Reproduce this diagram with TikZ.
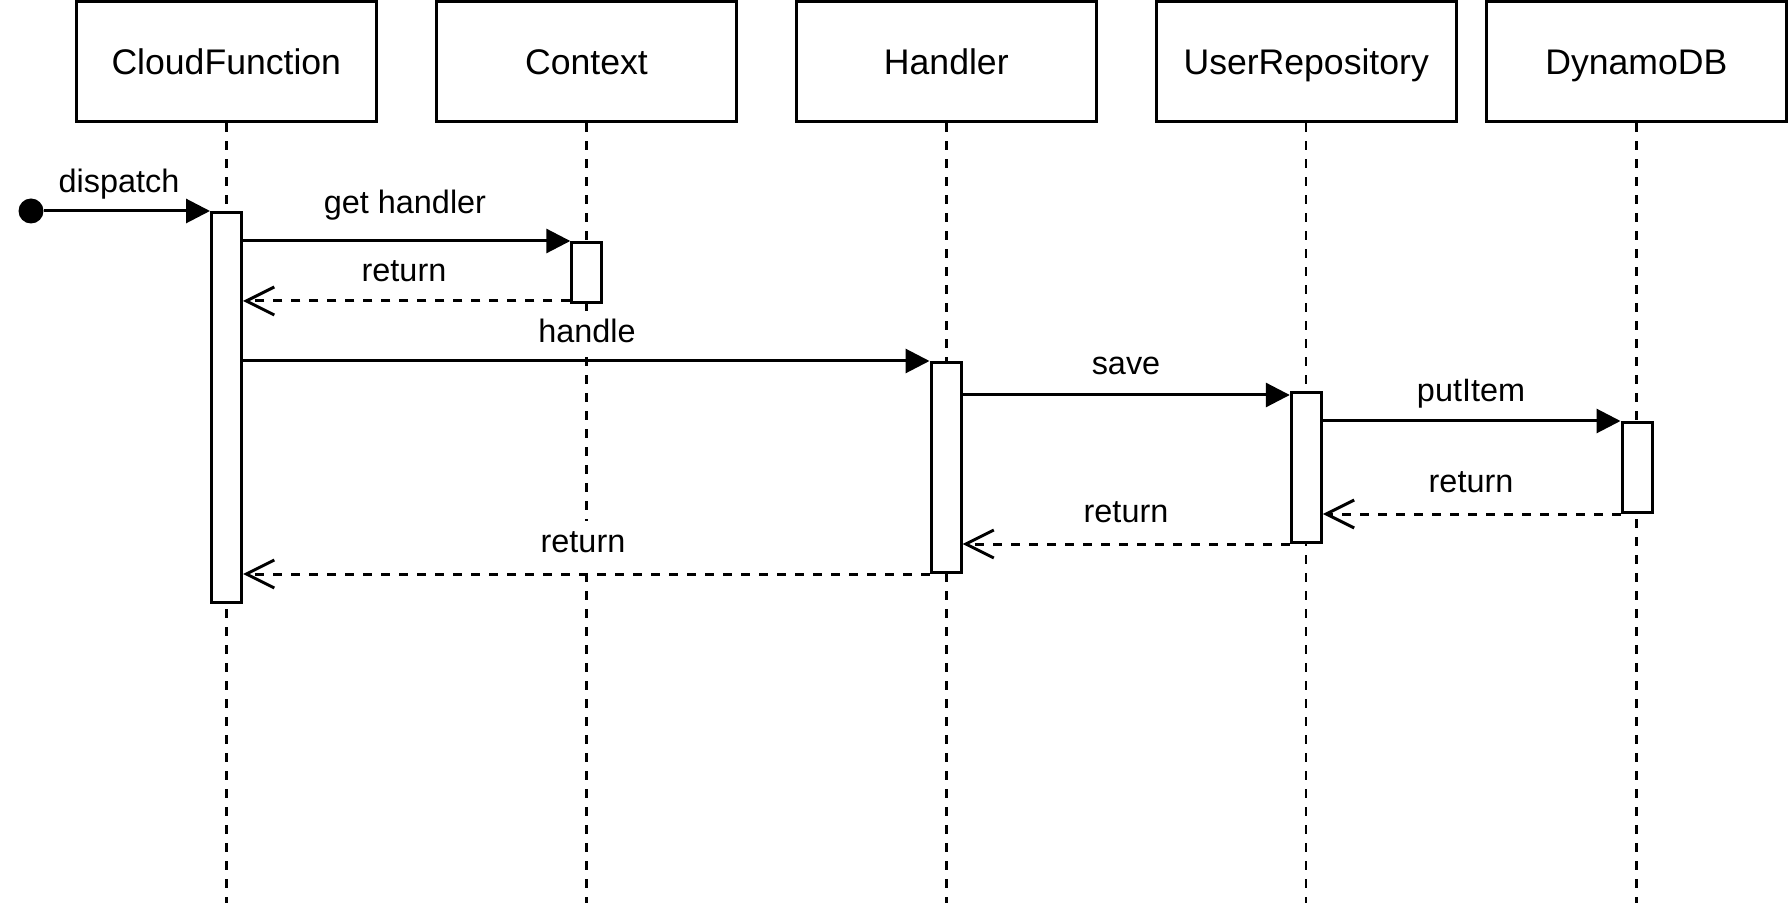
\documentclass[tikz,border=0pt]{standalone}
\usepackage{fontspec}
\setmainfont{Liberation Sans}
\usetikzlibrary{arrows.meta}
\begin{document}
\begin{tikzpicture}[x=0.5pt,y=-0.5pt,
  box/.style={draw, line width=1.5pt, minimum width=150pt, minimum height=60pt, inner sep=0pt, text height=12.8pt, text depth=0pt, font=\fontsize{17.8}{21}\selectfont},
  act/.style={draw, fill=white, line width=1.5pt, minimum width=15pt, inner sep=0pt, anchor=north},
  lifeline/.style={line width=1.2pt, dash pattern=on 4.5pt off 4.5pt},
  msg/.style={line width=1.5pt, -{Triangle[length=12pt,width=12pt]}},
  ret/.style={line width=1.5pt, dash pattern=on 4.5pt off 4.5pt, -{Straight Barb[length=14pt,width=14pt]}},
  lbl/.style={fill=white, inner xsep=2pt, inner ysep=3pt, text height=13pt, text depth=4pt, anchor=base, font=\fontsize{16.2}{19}\selectfont},
  startdot/.style={circle, fill=black, minimum size=12.5pt, inner sep=0pt}
]
\useasboundingbox (0,0) rectangle (1788,903);
\coordinate (bottom) at (0,903);
% participants
\node[box] (cf)  at (226.3,61.7)  {CloudFunction};
\node[box] (ctx) at (586.5,61.7)  {Context};
\node[box] (h)   at (946.3,61.7)  {Handler};
\node[box] (ur)  at (1306.2,61.7) {UserRepository};
\node[box] (db)  at (1636.3,61.7) {DynamoDB};
% lifelines
\foreach \n in {cf,ctx,h,ur,db} \draw[lifeline] (\n.south) -- (\n.south |- bottom);
% activations
\node[act, minimum height=195pt] (acf)  at (226.5,211) {};
\node[act, minimum height=30pt]  (actx) at (586.8,241) {};
\node[act, minimum height=105pt] (ah)   at (946,361) {};
\node[act, minimum height=75pt]  (aur)  at (1306.3,391) {};
\node[act, minimum height=45pt]  (adb)  at (1637,421) {};
% start
\node[startdot] (start) at (31,211) {};
% messages
\draw[msg] (start) -- (acf.north west);
\draw[msg] (acf.east |- actx.north) -- (actx.north west);
\coordinate (r1) at ([yshift=1.5pt]actx.south west);
\draw[ret] (r1) -- (acf.east |- r1);
\draw[msg] (acf.east |- ah.north) -- (ah.north west);
\coordinate (s1) at ([yshift=-2pt]aur.north west);
\draw[msg] (ah.east |- s1) -- (s1);
\draw[msg] (aur.east |- adb.north) -- (adb.north west);
\draw[ret] (adb.south west) -- (aur.east |- adb.south);
\draw[ret] (aur.south west) -- (ah.east |- aur.south);
\draw[ret] (ah.south west) -- (acf.east |- ah.south);
% labels
\node[lbl] (l1) at (119,193)    {dispatch};
\node[lbl] (l2) at (405,214)    {get handler};
\node[lbl] (l3) at (404,281.5)  {return};
\node[lbl] (l4) at (587,343)    {handle};
\node[lbl] (l5) at (1126,374.5) {save};
\node[lbl] (l6) at (1471,402)   {putItem};
\node[lbl] (l7) at (1471,492.5) {return};
\node[lbl] (l8) at (1126,522.5) {return};
\node[lbl] (l9) at (583,552.5)  {return};
\end{tikzpicture}
\end{document}
